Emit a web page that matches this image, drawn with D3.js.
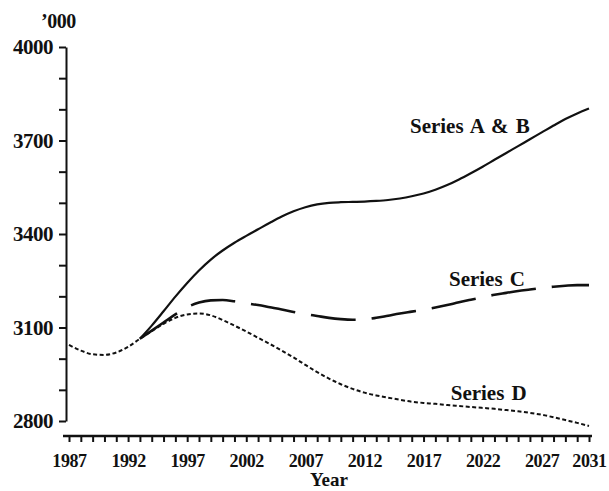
<!DOCTYPE html>
<html>
<head>
<meta charset="utf-8">
<script src="https://cdn.jsdelivr.net/npm/d3@7"></script>
<style>
  html, body { margin: 0; padding: 0; background: #fff; }
  text { font-family: "Liberation Serif", "Times New Roman", serif; font-weight: bold; fill: #111; }
</style>
</head>
<body>
<script>
// projections, thousands
const years = [1987, 1988, 1989, 1990, 1991, 1992, 1993, 1994, 1995, 1996,
    1997, 1998, 1999, 2000, 2001, 2002, 2003, 2004, 2005, 2006,
    2007, 2008, 2009, 2010, 2011, 2012, 2013, 2014, 2015, 2016,
    2017, 2018, 2019, 2020, 2021, 2022, 2023, 2024, 2025, 2026,
    2027, 2028, 2029, 2030, 2031];

const seriesAB = [null, null, null, null, null, null, 3064, 3106, 3152, 3199,
    3243, 3283, 3318, 3347, 3372, 3394, 3415, 3436, 3456, 3473,
    3486, 3495, 3500, 3502, 3503, 3504, 3506, 3509, 3514, 3521,
    3530, 3542, 3557, 3575, 3595, 3616, 3638, 3660, 3682, 3704,
    3726, 3748, 3769, 3787, 3803];

const seriesC = [null, null, null, null, null, null, 3064, 3090, 3116, 3142,
    3165, 3180, 3187, 3188, 3184, 3178, 3172, 3165, 3158, 3150,
    3143, 3137, 3131, 3127, 3125, 3126, 3131, 3138, 3145, 3151,
    3157, 3164, 3172, 3181, 3189, 3197, 3205, 3211, 3217, 3222,
    3227, 3231, 3234, 3236, 3236];

const seriesD = [3044, 3026, 3014, 3012, 3020, 3038, 3064, 3088, 3112, 3131,
    3142, 3145, 3139, 3124, 3106, 3087, 3067, 3047, 3026, 3004,
    2980, 2957, 2936, 2918, 2903, 2891, 2882, 2875, 2868, 2862,
    2858, 2855, 2851, 2848, 2845, 2842, 2839, 2835, 2831, 2826,
    2820, 2812, 2803, 2794, 2784];

const xTickLabels = [1987, 1992, 1997, 2002, 2007, 2012, 2017, 2022, 2027, 2031];
const yTickLabels = [2800, 3100, 3400, 3700, 4000];
const yMinorTicks = [2800, 2900, 3000, 3100, 3200, 3300, 3400, 3500, 3600, 3700, 3800, 3900, 4000];

const svg = d3.select("body").append("svg")
    .attr("width", 609)
    .attr("height", 491);

let x = d3.scaleLinear().domain([1987, 2031]).range([69, 589]);
let y = d3.scaleLinear().domain([2800, 4000]).range([421, 47]);

// y axis
let yAxis = svg.append("g")
    .attr("transform", "translate(66,0)")
    .call(d3.axisLeft(y)
        .tickValues(yMinorTicks)
        .tickSize(7)
        .tickSizeOuter(0)
        .tickPadding(6)
        .tickFormat(d => yTickLabels.includes(d) ? d : ""));
yAxis.select(".domain").attr("stroke", "#111").attr("stroke-width", 2);
yAxis.selectAll(".tick line").attr("stroke", "#111").attr("stroke-width", 2);
yAxis.selectAll(".tick text")
    .style("font-size", "21px")
    .style("letter-spacing", "-0.5px")
    .attr("dy", "0.33em");

// x axis
const xAxisY = 436;
let xAxis = svg.append("g")
    .attr("transform", "translate(0," + xAxisY + ")")
    .call(d3.axisBottom(x)
        .tickValues(years)
        .tickSize(6)
        .tickSizeOuter(0)
        .tickFormat(d => xTickLabels.includes(d) ? d : ""));
xAxis.select(".domain").remove();
xAxis.append("line")
    .attr("x1", x.range()[0] - 6)
    .attr("x2", x.range()[1] + 3)
    .attr("stroke", "#111")
    .attr("stroke-width", 2.5);
xAxis.selectAll(".tick line").attr("stroke", "#111").attr("stroke-width", 2);
xAxis.selectAll(".tick text")
    .style("font-size", "18px")
    .style("letter-spacing", "-0.4px")
    .attr("y", 31)
    .attr("dy", 0);

svg.append("text")
    .attr("x", (x.range()[0] + x.range()[1]) / 2)
    .attr("y", 486)
    .attr("text-anchor", "middle")
    .style("font-size", "19px")
    .text("Year");

svg.append("text")
    .attr("x", 41)
    .attr("y", 28)
    .style("font-size", "20px")
    .style("letter-spacing", "-0.5px")
    .text("\u2019000");

// lines
const line = d3.line()
    .defined(d => d[1] != null)
    .x(d => x(d[0]))
    .y(d => y(d[1]))
    .curve(d3.curveMonotoneX);

const series = [
    { name: "Series A & B", values: seriesAB, dash: null, width: 2.2, lx: 2015.85, ly: 3724 },
    { name: "Series C", values: seriesC, dash: "45,16", width: 2.6, lx: 2019.15, ly: 3233 },
    { name: "Series D", values: seriesD, dash: "4,2.5", width: 2, lx: 2019.3, ly: 2867 }
];

series.forEach(s => {
    svg.append("path")
        .datum(years.map((yr, i) => [yr, s.values[i]]))
        .attr("fill", "none")
        .attr("stroke", "#111")
        .attr("stroke-width", s.width)
        .attr("stroke-dasharray", s.dash)
        .attr("d", line);

    svg.append("text")
        .attr("x", x(s.lx))
        .attr("y", y(s.ly))
        .style("font-size", "21px")
        .style("word-spacing", "2px")
        .text(s.name);
});
</script>
</body>
</html>
